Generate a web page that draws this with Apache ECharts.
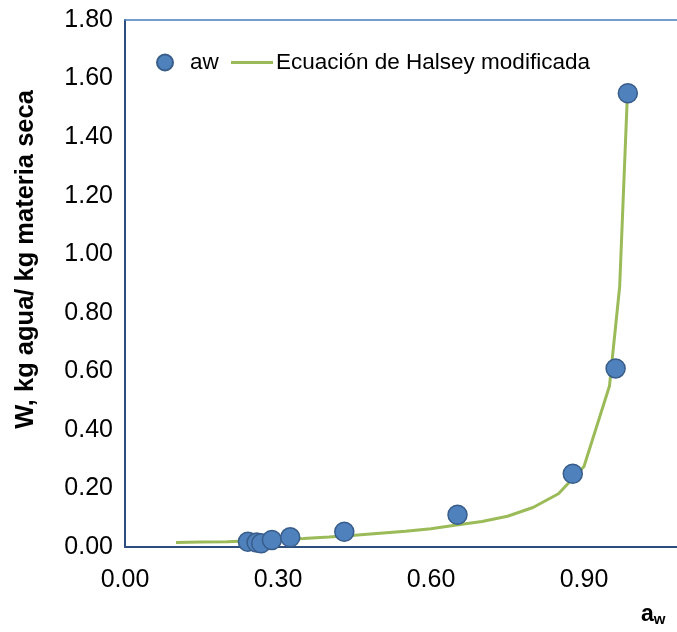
<!DOCTYPE html>
<html>
<head>
<meta charset="utf-8">
<script src="https://cdn.jsdelivr.net/npm/echarts@6/dist/echarts.min.js"></script>
<style>
  html, body { margin: 0; padding: 0; background: #ffffff; }
  #chart { width: 677px; height: 632px; }
</style>
</head>
<body>
<div id="chart"></div>
<script>
// Measured sorption points (water activity, moisture content)
const awMeasured = [0.241, 0.258, 0.267, 0.288, 0.324, 0.430, 0.652, 0.878, 0.962, 0.986];
const wMeasured  = [0.018, 0.015, 0.013, 0.024, 0.033, 0.052, 0.110, 0.250, 0.610, 1.550];

// Modified Halsey model curve
const awModel = [0.10, 0.15, 0.20, 0.25, 0.30, 0.35, 0.40, 0.45, 0.50, 0.55, 0.60, 0.65, 0.70, 0.75, 0.80, 0.85, 0.90, 0.95, 0.97, 0.985];
const wModel  = [0.015, 0.017, 0.018, 0.021, 0.025, 0.029, 0.034, 0.040, 0.047, 0.054, 0.062, 0.075, 0.087, 0.105, 0.135, 0.182, 0.275, 0.550, 0.890, 1.540];

// Axis ranges and tick steps (x range runs to the right edge of the canvas)
const xTicks = { min: 0, max: 1.0824, step: 0.3 };
const yTicks = { min: 0, max: 1.8, step: 0.2 };

const seriesNames = ['aw', 'Ecuación de Halsey modificada'];

const font = 'Liberation Sans, Arial, sans-serif';
const tickFont = 25;
const legendFont = 22.5;

const chart = echarts.init(document.getElementById('chart'), null, { renderer: 'canvas' });

chart.setOption({
  backgroundColor: '#ffffff',
  animation: false,
  grid: {
    left: 125, top: 20, right: 0, height: 527,
    outerBoundsMode: 'none', containLabel: false
  },
  legend: [
    {
      data: [seriesNames[0]], left: 156, top: 51, itemWidth: 16, itemHeight: 16, itemGap: 0,
      textStyle: { fontFamily: font, fontSize: legendFont, color: '#000', padding: [0, 0, 0, 12] },
      padding: 0
    },
    {
      data: [seriesNames[1]], left: 231, top: 51, itemWidth: 42, itemHeight: 3, itemGap: 0,
      icon: 'rect',
      textStyle: { fontFamily: font, fontSize: legendFont, color: '#000', padding: [0, 0, 0, -2] },
      padding: 0
    }
  ],
  xAxis: [
    {
      type: 'value', min: xTicks.min, max: xTicks.max, interval: xTicks.step,
      axisLine: { show: true, onZero: false, lineStyle: { color: '#2C4D7E', width: 2 } },
      axisTick: { show: false },
      splitLine: { show: false },
      axisLabel: { fontFamily: font, fontSize: tickFont, color: '#000', margin: 21, showMaxLabel: false,
                   formatter: v => v.toFixed(2) }
    },
    {
      // plain frame line along the top of the plot
      type: 'value', position: 'top', min: xTicks.min, max: xTicks.max, interval: xTicks.step,
      axisLine: { show: true, onZero: false, lineStyle: { color: '#4A7EBB', width: 1.5 } },
      axisTick: { show: false }, axisLabel: { show: false }, splitLine: { show: false }
    }
  ],
  yAxis: {
    type: 'value', min: yTicks.min, max: yTicks.max, interval: yTicks.step,
    name: 'W, kg agua/ kg materia seca', nameLocation: 'middle', nameGap: 86,
    nameTextStyle: { fontFamily: font, fontSize: 25.5, fontWeight: 'bold', color: '#000', padding: [0, 0, 0, 48] },
    axisLine: { show: true, lineStyle: { color: '#2C4D7E', width: 2 } },
    axisTick: { show: false },
    splitLine: { show: false },
    axisLabel: { fontFamily: font, fontSize: tickFont, color: '#000', margin: 12, formatter: v => v.toFixed(2) }
  },
  graphic: [
    {
      type: 'text', left: 641, top: 603,
      style: {
        text: '{a|a}{w|w}',
        rich: {
          a: { fontFamily: font, fontSize: 23, fontWeight: 'bold', fill: '#000' },
          w: { fontFamily: font, fontSize: 15, fontWeight: 'bold', fill: '#000', padding: [10, 0, 0, 0] }
        }
      }
    }
  ],
  series: [
    {
      name: seriesNames[1], type: 'line', z: 2,
      data: awModel.map((x, i) => [x, wModel[i]]),
      symbol: 'none', smooth: false,
      lineStyle: { color: '#9BBB59', width: 3 },
      itemStyle: { color: '#9BBB59' }
    },
    {
      name: seriesNames[0], type: 'scatter', z: 3,
      data: awMeasured.map((x, i) => [x, wMeasured[i]]),
      symbol: 'circle', symbolSize: 19,
      itemStyle: { color: '#4F81BD', borderColor: '#385D8A', borderWidth: 1.5, opacity: 1 }
    }
  ]
});
</script>
</body>
</html>
